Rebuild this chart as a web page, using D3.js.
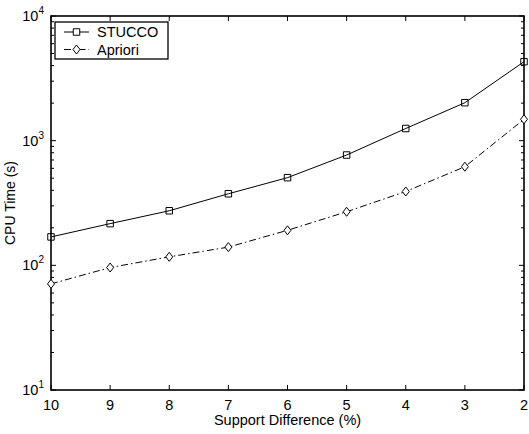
<!DOCTYPE html>
<html>
<head>
<meta charset="utf-8">
<script src="https://cdn.jsdelivr.net/npm/d3@7"></script>
<style>
  body { margin: 0; background: #fff; }
  svg { display: block; }
  text { font-family: "Liberation Sans", Arial, sans-serif; fill: #000; }
</style>
</head>
<body>
<div id="chart"></div>
<script>
// x categories (support difference, %), plotted right-to-left
const supportDiff = [10, 9, 8, 7, 6, 5, 4, 3, 2];
// CPU time in seconds
const stucco = [169, 216, 274, 375, 505, 767, 1252, 2016, 4300];
const apriori = [71, 96, 117, 140, 191, 269, 391, 618, 1484];
const seriesNames = ['STUCCO', 'Apriori'];
const yDecades = [1, 2, 3, 4];

const width = 529, height = 434;
const margin = { top: 16, right: 5, bottom: 44, left: 51 };
const w = width - margin.left - margin.right;
const h = height - margin.top - margin.bottom;

const svg = d3.select('#chart')
  .append('svg')
  .attr('width', width)
  .attr('height', height);

const g = svg.append('g')
  .attr('transform', `translate(${margin.left},${margin.top})`);

const x = d3.scaleLinear().domain([10, 2]).range([0, w]);
const y = d3.scaleLog().domain([10, 10000]).range([h, 0]);

// minor ticks for the log axis
const minorVals = [];
for (let d = 1; d < 4; d++) {
  for (let k = 2; k <= 9; k++) minorVals.push(k * Math.pow(10, d));
}

// tick marks (inside, on all four sides)
const tickG = g.append('g').attr('stroke', '#000').attr('stroke-width', 1);
supportDiff.forEach(v => {
  tickG.append('line').attr('x1', x(v)).attr('x2', x(v)).attr('y1', h).attr('y2', h - 5);
  tickG.append('line').attr('x1', x(v)).attr('x2', x(v)).attr('y1', 0).attr('y2', 5);
});
yDecades.forEach(d => {
  const yy = y(Math.pow(10, d));
  tickG.append('line').attr('x1', 0).attr('x2', 5).attr('y1', yy).attr('y2', yy);
  tickG.append('line').attr('x1', w).attr('x2', w - 5).attr('y1', yy).attr('y2', yy);
});
minorVals.forEach(v => {
  const yy = y(v);
  tickG.append('line').attr('x1', 0).attr('x2', 3).attr('y1', yy).attr('y2', yy);
  tickG.append('line').attr('x1', w).attr('x2', w - 3).attr('y1', yy).attr('y2', yy);
});

// axis box
g.append('rect')
  .attr('x', 0).attr('y', 0).attr('width', w).attr('height', h)
  .attr('fill', 'none').attr('stroke', '#000').attr('stroke-width', 1.6);

// x tick labels
g.selectAll('.xlab')
  .data(supportDiff)
  .enter()
  .append('text')
  .attr('x', d => x(d))
  .attr('y', h + 20)
  .attr('text-anchor', 'middle')
  .attr('font-size', 14.5)
  .text(d => d);

// y tick labels 10^n
yDecades.forEach(d => {
  const t = g.append('text')
    .attr('x', -7)
    .attr('y', y(Math.pow(10, d)) + 5)
    .attr('text-anchor', 'end')
    .attr('font-size', 14.5);
  t.append('tspan').text('10');
  t.append('tspan').attr('dy', -7).attr('font-size', 10).text(d);
});

// axis titles
g.append('text')
  .attr('x', w / 2)
  .attr('y', h + 35)
  .attr('text-anchor', 'middle')
  .attr('font-size', 14.5)
  .text('Support Difference (%)');

g.append('text')
  .attr('transform', `translate(${-36},${h / 2}) rotate(-90)`)
  .attr('text-anchor', 'middle')
  .attr('font-size', 14)
  .text('CPU Time (s)');

// lines
const line = d3.line()
  .x((d, i) => x(supportDiff[i]))
  .y(d => y(d));

g.append('path')
  .datum(stucco)
  .attr('d', line)
  .attr('fill', 'none')
  .attr('stroke', '#000')
  .attr('stroke-width', 1);

g.append('path')
  .datum(apriori)
  .attr('d', line)
  .attr('fill', 'none')
  .attr('stroke', '#000')
  .attr('stroke-width', 1)
  .attr('stroke-dasharray', '7,3,1.5,3');

// markers
const square = d3.symbol().type(d3.symbolSquare).size(42);
const diamond = 'M0,-4.5L3.5,0L0,4.5L-3.5,0Z';

g.selectAll('.sq')
  .data(stucco)
  .enter()
  .append('path')
  .attr('d', square)
  .attr('transform', (d, i) => `translate(${x(supportDiff[i])},${y(d)})`)
  .attr('fill', 'none')
  .attr('stroke', '#000')
  .attr('stroke-width', 1);

g.selectAll('.dm')
  .data(apriori)
  .enter()
  .append('path')
  .attr('d', diamond)
  .attr('transform', (d, i) => `translate(${x(supportDiff[i])},${y(d)})`)
  .attr('fill', '#fff')
  .attr('stroke', '#000')
  .attr('stroke-width', 1);

// legend
const lg = g.append('g').attr('transform', 'translate(4,6)');
lg.append('rect')
  .attr('width', 113).attr('height', 37)
  .attr('fill', '#fff').attr('stroke', '#000').attr('stroke-width', 1.3);

seriesNames.forEach((name, i) => {
  const yy = 10 + i * 17.5;
  lg.append('line')
    .attr('x1', 9).attr('x2', 34).attr('y1', yy).attr('y2', yy)
    .attr('stroke', '#000').attr('stroke-width', 1)
    .attr('stroke-dasharray', i === 0 ? null : '7,3,1.5,3');
  lg.append('path')
    .attr('d', i === 0 ? square : diamond)
    .attr('transform', `translate(21.5,${yy})`)
    .attr('fill', '#fff').attr('stroke', '#000').attr('stroke-width', 1);
  lg.append('text')
    .attr('x', 42).attr('y', yy + 5)
    .attr('font-size', 14.5)
    .text(name);
});
</script>
</body>
</html>
